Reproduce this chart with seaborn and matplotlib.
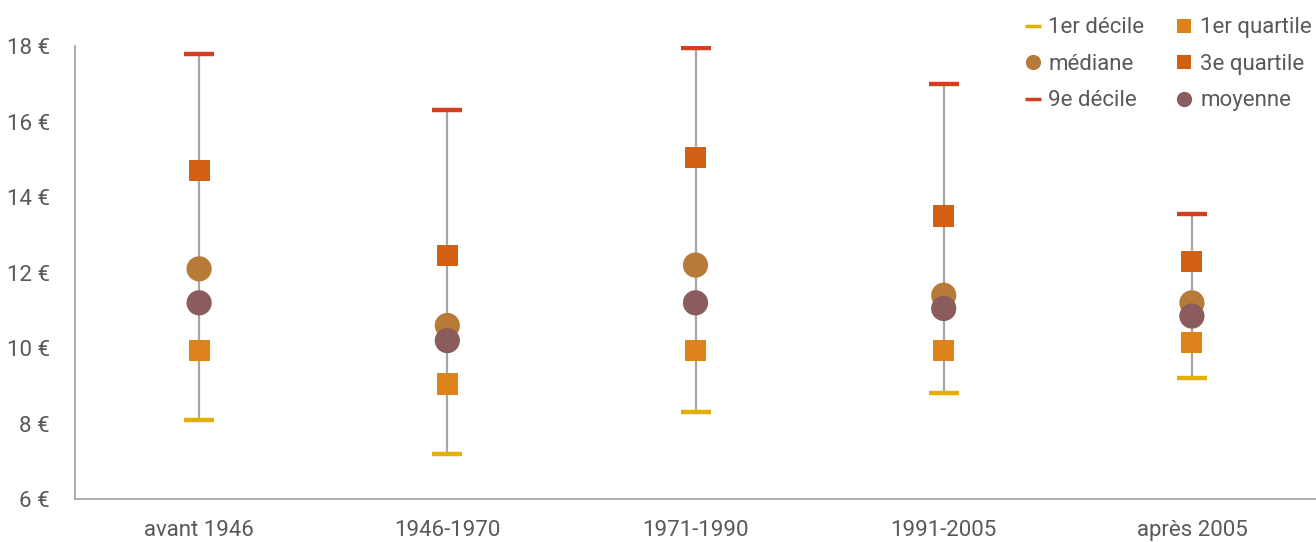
import matplotlib
matplotlib.use("Agg")

import pandas as pd
import matplotlib.pyplot as plt
import seaborn as sns
from matplotlib.lines import Line2D

# -------------------------
# DATA
# -------------------------
periods = ["avant 1946", "1946-1970", "1971-1990", "1991-2005", "après 2005"]

decile_1 = [8.1, 7.2, 8.3, 8.8, 9.2]
quartile_1 = [9.95, 9.05, 9.95, 9.95, 10.15]
mediane = [12.1, 10.6, 12.2, 11.4, 11.2]
quartile_3 = [14.7, 12.45, 15.05, 13.5, 12.3]
decile_9 = [17.8, 16.3, 17.95, 17.0, 13.55]
moyenne = [11.2, 10.2, 11.2, 11.05, 10.85]

# -------------------------
# STYLE
# -------------------------
sns.set_style("white")
plt.rcParams["font.family"] = ["Roboto", "DejaVu Sans"]

TEXT = "#595959"
GREY = "#A6A6A6"

colors = {
    "1er décile": "#E2B000",
    "1er quartile": "#DE831C",
    "médiane": "#B87A38",
    "3e quartile": "#D16014",
    "9e décile": "#D13F1E",
    "moyenne": "#8B5C5C",
}

fig = plt.figure(figsize=(13.16, 5.42), dpi=100)
ax = fig.add_axes([0.057, 0.079, 0.943, 0.836])

# whiskers from 1st to 9th decile
ax.vlines(
    range(len(periods)),
    decile_1,
    decile_9,
    color=GREY,
    linewidth=1.6,
    zorder=1
)

series = [
    ("1er décile", decile_1, "_", 480),
    ("9e décile", decile_9, "_", 480),
    ("1er quartile", quartile_1, "s", 230),
    ("3e quartile", quartile_3, "s", 230),
    ("médiane", mediane, "o", 330),
    ("moyenne", moyenne, "o", 330),
]

for name, values, marker, size in series:
    if marker == "_":
        sns.scatterplot(
            x=periods,
            y=values,
            marker=marker,
            s=size,
            color=colors[name],
            linewidth=3.2,
            ax=ax,
            zorder=3
        )
    else:
        sns.scatterplot(
            x=periods,
            y=values,
            marker=marker,
            s=size,
            color=colors[name],
            edgecolor="none",
            ax=ax,
            zorder=3
        )

ax.set_xlim(-0.5, len(periods) - 0.5)
ax.set_ylim(6, 18)
ax.set_yticks([6, 8, 10, 12, 14, 16, 18])
ax.set_yticklabels([f"{v} €" for v in [6, 8, 10, 12, 14, 16, 18]])

ax.tick_params(axis="both", length=0, labelsize=16, labelcolor=TEXT)
ax.tick_params(axis="y", pad=18)
ax.tick_params(axis="x", pad=15)

sns.despine(ax=ax)
for side in ["left", "bottom"]:
    ax.spines[side].set_color(GREY)
    ax.spines[side].set_linewidth(1.3)

ax.set_xlabel("")
ax.set_ylabel("")

# -------------------------
# LEGEND
# -------------------------
def handle(name, marker, ms):
    if marker == "_":
        return Line2D([], [], color=colors[name], marker="_", linestyle="",
                      markersize=11, markeredgewidth=2.5)
    return Line2D([], [], color=colors[name], marker=marker, linestyle="",
                  markersize=ms, markeredgewidth=0)

order = [
    ("1er décile", "_", 0),
    ("médiane", "o", 11),
    ("9e décile", "_", 0),
    ("1er quartile", "s", 10),
    ("3e quartile", "s", 10),
    ("moyenne", "o", 11),
]

fig.legend(
    [handle(n, m, s) for n, m, s in order],
    [n for n, m, s in order],
    loc="upper right",
    bbox_to_anchor=(1.012, 1.005),
    ncol=2,
    frameon=False,
    fontsize=16,
    labelcolor=TEXT,
    handlelength=0.8,
    handletextpad=0.3,
    columnspacing=1.4,
    labelspacing=0.7
)

plt.savefig("out.png", dpi=100)
plt.close()
